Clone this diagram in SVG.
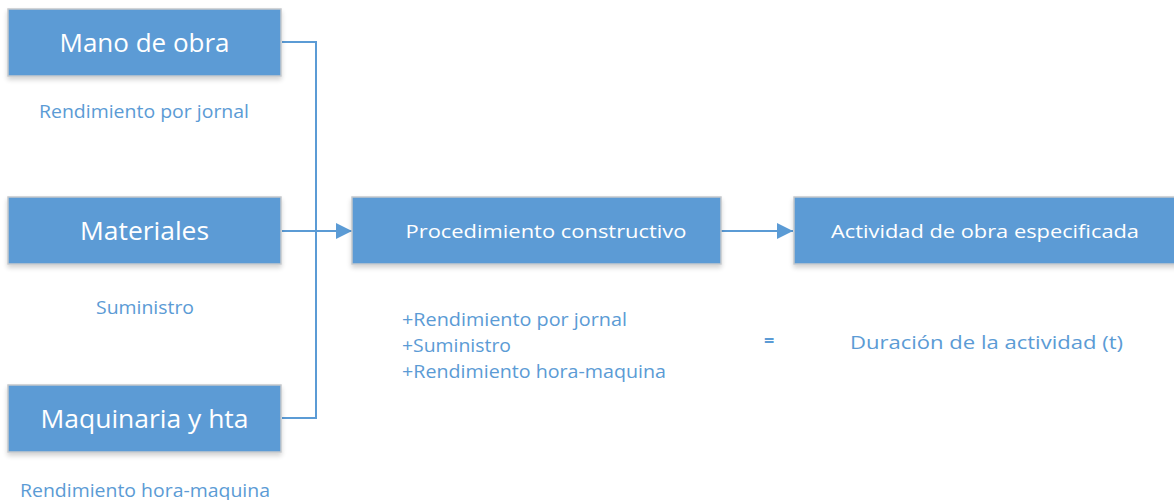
<svg xmlns="http://www.w3.org/2000/svg" width="1174" height="500" viewBox="0 0 1174 500">
<style>
.box{fill:#5b9bd5;stroke:#c4c8cc;stroke-width:1.5}
.big{font-family:"Open Sans","Noto Sans",sans-serif;font-size:26px;fill:#ffffff;text-anchor:middle}
.mid{font-family:"Open Sans","Noto Sans",sans-serif;font-size:19px;fill:#ffffff;text-anchor:middle}
.lbl{font-family:"Open Sans","Noto Sans",sans-serif;font-size:18px;fill:#5b9bd5}
.ln{fill:none;stroke:#5b9bd5;stroke-width:2}
</style>
<defs>
<marker id="ah" viewBox="0 0 10 10" refX="10" refY="5" markerWidth="16" markerHeight="16" markerUnits="userSpaceOnUse" orient="auto"><path d="M0,0 L10,5 L0,10 z" fill="#5b9bd5"/></marker>
<filter id="sh" x="-5%" y="-10%" width="110%" height="130%"><feGaussianBlur in="SourceAlpha" stdDeviation="2.5"/><feOffset dy="3"/><feComponentTransfer><feFuncA type="linear" slope="0.18"/></feComponentTransfer><feMerge><feMergeNode/><feMergeNode in="SourceGraphic"/></feMerge></filter>
</defs>
<rect width="1174" height="500" fill="#ffffff"/>
<g id="connectors">
<path class="ln" d="M282,42 H316 V418 H282"/>
<path class="ln" d="M282,231 H352" marker-end="url(#ah)"/>
<path class="ln" d="M721,231 H793" marker-end="url(#ah)"/>
</g>
<g id="mano">
<rect class="box" x="8" y="9" width="273" height="67" filter="url(#sh)"/>
<text class="big" x="144.5" y="52" textLength="170" lengthAdjust="spacingAndGlyphs">Mano de obra</text>
</g>
<g id="materiales">
<rect class="box" x="8" y="197" width="273" height="67" filter="url(#sh)"/>
<text class="big" x="144.5" y="240" textLength="129" lengthAdjust="spacingAndGlyphs">Materiales</text>
</g>
<g id="maquinaria">
<rect class="box" x="8" y="385" width="273" height="67" filter="url(#sh)"/>
<text class="big" x="144.5" y="428" textLength="208" lengthAdjust="spacingAndGlyphs">Maquinaria y hta</text>
</g>
<g id="procedimiento">
<rect class="box" x="352" y="197" width="369" height="67" filter="url(#sh)"/>
<text class="mid" x="546" y="238" textLength="281" lengthAdjust="spacingAndGlyphs">Procedimiento constructivo</text>
</g>
<g id="actividad">
<rect class="box" x="794" y="197" width="384" height="67" filter="url(#sh)"/>
<text class="mid" x="985" y="238" textLength="308" lengthAdjust="spacingAndGlyphs">Actividad de obra especificada</text>
</g>
<g id="labels">
<text class="lbl" x="39" y="118" textLength="210" lengthAdjust="spacingAndGlyphs">Rendimiento por jornal</text>
<text class="lbl" x="96" y="314" textLength="98" lengthAdjust="spacingAndGlyphs">Suministro</text>
<text class="lbl" x="20" y="497" textLength="250" lengthAdjust="spacingAndGlyphs">Rendimiento hora-maquina</text>
<text class="lbl" x="402" y="326" textLength="225" lengthAdjust="spacingAndGlyphs">+Rendimiento por jornal</text>
<text class="lbl" x="402" y="352" textLength="109" lengthAdjust="spacingAndGlyphs">+Suministro</text>
<text class="lbl" x="402" y="378" textLength="264" lengthAdjust="spacingAndGlyphs">+Rendimiento hora-maquina</text>
<text class="lbl" x="764" y="347" font-size="22px" font-weight="bold">=</text>
<text class="lbl" x="850" y="349" textLength="273" lengthAdjust="spacingAndGlyphs">Duración de la actividad (t)</text>
</g>
</svg>
